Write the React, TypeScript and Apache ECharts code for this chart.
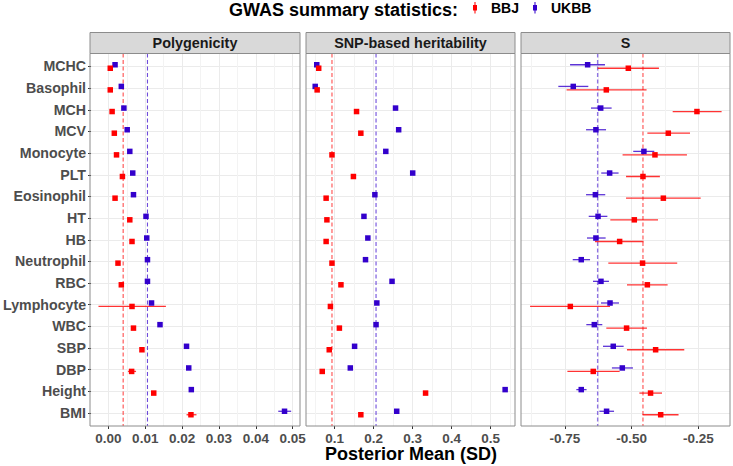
import { useEffect, useRef } from "react";
import * as echarts from "echarts";

// traits, top to bottom
const traits = [
  "MCHC", "Basophil", "MCH", "MCV", "Monocyte", "PLT", "Eosinophil", "HT", "HB",
  "Neutrophil", "RBC", "Lymphocyte", "WBC", "SBP", "DBP", "Height", "BMI",
];

// Polygenicity
const polyBBJ = [0.0005, 0.0005, 0.001, 0.0016, 0.0022, 0.0038, 0.0018, 0.0058, 0.0064, 0.0026, 0.0035, 0.0064, 0.0068, 0.0091, 0.0063, 0.0123, 0.0224];
const polyBBJLo = [0.0003, 0.0003, 0.0008, 0.0014, 0.002, 0.0036, 0.0016, 0.0056, 0.0062, 0.0024, 0.0033, -0.0027, 0.0066, 0.0086, 0.0053, 0.012, 0.0212];
const polyBBJHi = [0.0007, 0.0007, 0.0012, 0.0018, 0.0024, 0.004, 0.002, 0.006, 0.0066, 0.0028, 0.0037, 0.0156, 0.007, 0.0096, 0.0075, 0.0126, 0.0239];
const polyUKBB = [0.0018, 0.0035, 0.0042, 0.0051, 0.0058, 0.0066, 0.0068, 0.0102, 0.0104, 0.0106, 0.0106, 0.0117, 0.014, 0.0212, 0.0218, 0.0225, 0.0478];
const polyUKBBLo = [0.0016, 0.0033, 0.004, 0.0049, 0.0056, 0.0064, 0.0066, 0.01, 0.0102, 0.0104, 0.0104, 0.0115, 0.0138, 0.0208, 0.0214, 0.0222, 0.0461];
const polyUKBBHi = [0.002, 0.0037, 0.0044, 0.0053, 0.006, 0.0068, 0.007, 0.0104, 0.0106, 0.0108, 0.0108, 0.0119, 0.0142, 0.0216, 0.0222, 0.0228, 0.0496];
const polyMeanBBJ = 0.004;
const polyMeanUKBB = 0.0106;

// SNP-based heritability
const snpBBJ = [0.059, 0.055, 0.156, 0.167, 0.093, 0.148, 0.078, 0.08, 0.078, 0.093, 0.116, 0.089, 0.112, 0.086, 0.068, 0.333, 0.167];
const snpBBJLo = [0.057, 0.053, 0.153, 0.164, 0.09, 0.145, 0.075, 0.077, 0.075, 0.09, 0.113, 0.086, 0.109, 0.083, 0.065, 0.329, 0.164];
const snpBBJHi = [0.061, 0.057, 0.159, 0.17, 0.096, 0.151, 0.081, 0.083, 0.081, 0.096, 0.119, 0.092, 0.115, 0.089, 0.071, 0.337, 0.17];
const snpUKBB = [0.054, 0.05, 0.256, 0.264, 0.231, 0.3, 0.203, 0.175, 0.185, 0.179, 0.247, 0.208, 0.206, 0.151, 0.14, 0.537, 0.259];
const snpUKBBLo = [0.052, 0.048, 0.253, 0.261, 0.228, 0.297, 0.2, 0.172, 0.182, 0.176, 0.244, 0.205, 0.203, 0.148, 0.137, 0.532, 0.256];
const snpUKBBHi = [0.056, 0.052, 0.259, 0.267, 0.234, 0.303, 0.206, 0.178, 0.188, 0.182, 0.25, 0.211, 0.209, 0.154, 0.143, 0.542, 0.262];
const snpMeanBBJ = 0.093;
const snpMeanUKBB = 0.206;

// S
const sBBJ = [-0.5125, -0.595, -0.255, -0.3625, -0.4125, -0.4575, -0.381, -0.49, -0.545, -0.459, -0.441, -0.73, -0.519, -0.41, -0.644, -0.429, -0.391];
const sBBJLo = [-0.6275, -0.744, -0.346, -0.441, -0.534, -0.521, -0.521, -0.58, -0.6375, -0.5875, -0.5175, -0.881, -0.595, -0.5175, -0.741, -0.471, -0.459];
const sBBJHi = [-0.3975, -0.444, -0.1625, -0.281, -0.2925, -0.394, -0.241, -0.401, -0.455, -0.329, -0.365, -0.581, -0.4425, -0.3025, -0.545, -0.386, -0.324];
const sUKBB = [-0.665, -0.719, -0.616, -0.634, -0.454, -0.5825, -0.636, -0.626, -0.634, -0.689, -0.615, -0.581, -0.64, -0.569, -0.535, -0.689, -0.594];
const sUKBBLo = [-0.731, -0.775, -0.6525, -0.671, -0.494, -0.614, -0.671, -0.661, -0.6675, -0.721, -0.645, -0.615, -0.67, -0.6075, -0.574, -0.7075, -0.621];
const sUKBBHi = [-0.6, -0.6625, -0.575, -0.596, -0.415, -0.549, -0.599, -0.591, -0.5975, -0.656, -0.585, -0.5475, -0.61, -0.53, -0.495, -0.669, -0.566];
const sMeanBBJ = -0.4575;
const sMeanUKBB = -0.6275;

const FONT = "'Liberation Sans', Arial, Helvetica, sans-serif";
const RED = "#FF0000";
const BLUE = "#3300CC";
const W = 733;
const H = 466;
const FRAME_TOP = 53.5;
const FRAME_BOTTOM = 426;
const STRIP_TOP = 32.5;
const PAD = 0.6;
const DODGE = 0.08;

const panels = [
  {
    title: "Polygenicity", left: 90, right: 300, min: -0.005, max: 0.052,
    majorFrom: 0, majorTo: 0.05, minorFrom: 0.005, minorTo: 0.045, step: 0.01, digits: 2,
    bbj: polyBBJ, bbjLo: polyBBJLo, bbjHi: polyBBJHi,
    ukbb: polyUKBB, ukbbLo: polyUKBBLo, ukbbHi: polyUKBBHi,
    meanBBJ: polyMeanBBJ, meanUKBB: polyMeanUKBB, meanWidth: 1.1, meanOpacity: 0.7,
  },
  {
    title: "SNP-based heritability", left: 306, right: 515, min: 0.0264, max: 0.5623,
    majorFrom: 0.1, majorTo: 0.5, minorFrom: 0.05, minorTo: 0.55, step: 0.1, digits: 1,
    bbj: snpBBJ, bbjLo: snpBBJLo, bbjHi: snpBBJHi,
    ukbb: snpUKBB, ukbbLo: snpUKBBLo, ukbbHi: snpUKBBHi,
    meanBBJ: snpMeanBBJ, meanUKBB: snpMeanUKBB, meanWidth: 1.4, meanOpacity: 0.55,
  },
  {
    title: "S", left: 521, right: 730, min: -0.915, max: -0.131,
    majorFrom: -0.75, majorTo: -0.25, minorFrom: -0.875, minorTo: -0.375, step: 0.25, digits: 2,
    bbj: sBBJ, bbjLo: sBBJLo, bbjHi: sBBJHi,
    ukbb: sUKBB, ukbbLo: sUKBBLo, ukbbHi: sUKBBHi,
    meanBBJ: sMeanBBJ, meanUKBB: sMeanUKBB, meanWidth: 1.4, meanOpacity: 0.55,
  },
];

const App = () => {
  const chartRef = useRef<HTMLDivElement>(null);

  useEffect(() => {
    const chart = echarts.init(chartRef.current, null, { renderer: "svg" });
    const n = traits.length;
    const unit = (FRAME_BOTTOM - FRAME_TOP) / (n - 1 + 2 * PAD);

    const grid: any[] = [];
    const xAxis: any[] = [];
    const yAxis: any[] = [];
    const series: any[] = [];
    const graphic: any[] = [];

    const hiddenY = (gi: number) => ({ gridIndex: gi, type: "value", min: 0, max: 1, show: false });

    panels.forEach((p, i) => {
      const span = p.right - p.left;
      const px = (v: number) => p.left + ((v - p.min) / (p.max - p.min)) * span;
      const base = i * 4;

      // major vertical grid + tick labels
      grid.push({ left: px(p.majorFrom), right: W - px(p.majorTo), top: FRAME_TOP, bottom: H - FRAME_BOTTOM });
      xAxis.push({
        gridIndex: base, type: "value", min: p.majorFrom, max: p.majorTo, interval: p.step,
        axisLine: { show: false },
        axisTick: { show: true, length: 3, lineStyle: { color: "#333333", width: 1 } },
        axisLabel: {
          margin: 5, color: "#4D4D4D", fontFamily: FONT, fontWeight: "bold", fontSize: 13.5,
          formatter: (v: number) => v.toFixed(p.digits),
        },
        splitLine: { show: true, lineStyle: { color: "#EBEBEB", width: 1 } },
      });
      yAxis.push(hiddenY(base));

      // minor vertical grid
      grid.push({ left: px(p.minorFrom), right: W - px(p.minorTo), top: FRAME_TOP, bottom: H - FRAME_BOTTOM });
      xAxis.push({
        gridIndex: base + 1, type: "value", min: p.minorFrom, max: p.minorTo, interval: p.step,
        axisLine: { show: false }, axisTick: { show: false }, axisLabel: { show: false },
        splitLine: { show: true, lineStyle: { color: "#F3F3F3", width: 1 } },
      });
      yAxis.push(hiddenY(base + 1));

      // rows: horizontal grid + trait labels
      grid.push({
        left: p.left, right: W - p.right,
        top: FRAME_TOP + PAD * unit, bottom: H - (FRAME_BOTTOM - PAD * unit),
      });
      xAxis.push({ gridIndex: base + 2, type: "value", min: 0, max: 1, show: false });
      yAxis.push({
        gridIndex: base + 2, type: "value", min: 0, max: n - 1, interval: 1, inverse: true,
        axisLine: { show: false },
        axisTick: { show: i === 0, length: 3, lineStyle: { color: "#333333", width: 1 } },
        axisLabel: {
          show: i === 0, margin: 5, color: "#4D4D4D", fontFamily: FONT, fontWeight: "bold", fontSize: 14.2,
          formatter: (v: number) => traits[Math.round(v)] ?? "",
        },
        splitLine: { show: true, lineStyle: { color: "#EBEBEB", width: 1 } },
      });

      // data grid over the whole panel
      grid.push({ left: p.left, right: W - p.right, top: FRAME_TOP, bottom: H - FRAME_BOTTOM });
      xAxis.push({ gridIndex: base + 3, type: "value", min: p.min, max: p.max, show: false });
      yAxis.push({ gridIndex: base + 3, type: "value", min: -PAD, max: n - 1 + PAD, inverse: true, show: false });

      const groups = [
        { name: "UKBB", color: BLUE, v: p.ukbb, lo: p.ukbbLo, hi: p.ukbbHi, off: -DODGE, mean: p.meanUKBB },
        { name: "BBJ", color: RED, v: p.bbj, lo: p.bbjLo, hi: p.bbjHi, off: DODGE, mean: p.meanBBJ },
      ];

      // dashed mean lines across the full panel height
      groups.forEach((g) => {
        series.push({
          type: "custom",
          xAxisIndex: base + 3,
          yAxisIndex: base + 3,
          silent: true,
          z: 2,
          encode: { x: 0 },
          data: [[g.mean]],
          renderItem: (_params: any, api: any) => {
            const a = api.coord([api.value(0), -PAD]);
            const b = api.coord([api.value(0), n - 1 + PAD]);
            return {
              type: "line",
              shape: { x1: a[0], y1: a[1], x2: b[0], y2: b[1] },
              style: {
                stroke: g.color, lineWidth: p.meanWidth, opacity: p.meanOpacity,
                lineDash: [4, 2.5],
              },
            };
          },
        });
      });

      // horizontal interval bars
      groups.forEach((g) => {
        series.push({
          type: "custom",
          xAxisIndex: base + 3,
          yAxisIndex: base + 3,
          silent: true,
          z: 3,
          encode: { x: [0, 1], y: 2 },
          data: traits.map((_, k) => [g.lo[k], g.hi[k], k + g.off]),
          renderItem: (_params: any, api: any) => {
            const a = api.coord([api.value(0), api.value(2)]);
            const b = api.coord([api.value(1), api.value(2)]);
            return {
              type: "line",
              shape: { x1: a[0], y1: a[1], x2: b[0], y2: b[1] },
              style: { stroke: g.color, lineWidth: 1.3, opacity: 0.8 },
            };
          },
        });
      });

      groups.forEach((g) => {
        series.push({
          type: "scatter",
          name: g.name,
          xAxisIndex: base + 3,
          yAxisIndex: base + 3,
          silent: true,
          z: 4,
          symbol: "rect",
          symbolSize: 5.5,
          itemStyle: { color: g.color, opacity: 1 },
          data: traits.map((_, k) => [g.v[k], k + g.off]),
        });
      });

      // strip + frame
      graphic.push({
        type: "rect", z: 50,
        shape: { x: p.left, y: STRIP_TOP, width: span, height: FRAME_TOP - STRIP_TOP },
        style: { fill: "#D9D9D9", stroke: "#8C8C8C", lineWidth: 1 },
      });
      graphic.push({
        type: "text", z: 51, x: p.left + span / 2, y: 43,
        style: {
          text: p.title, fill: "#1A1A1A", font: `bold 14.4px ${FONT}`,
          align: "center", verticalAlign: "middle",
        },
      });
      graphic.push({
        type: "rect", z: 50,
        shape: { x: p.left, y: FRAME_TOP, width: span, height: FRAME_BOTTOM - FRAME_TOP },
        style: { fill: "none", stroke: "#8C8C8C", lineWidth: 1 },
      });
    });

    // legend
    graphic.push({
      type: "text", x: 229, y: 10,
      style: { text: "GWAS summary statistics:", fill: "#000000", font: `bold 18px ${FONT}`, verticalAlign: "middle" },
    });
    const legendItems = [
      { name: "BBJ", color: RED, iconX: 475, textX: 491 },
      { name: "UKBB", color: BLUE, iconX: 535, textX: 551 },
    ];
    legendItems.forEach((it) => {
      graphic.push({
        type: "line",
        shape: { x1: it.iconX, y1: 2, x2: it.iconX, y2: 13.5 },
        style: { stroke: it.color, lineWidth: 1.3, opacity: 0.8 },
      });
      graphic.push({
        type: "rect",
        shape: { x: it.iconX - 2, y: 5, width: 4, height: 5.5 },
        style: { fill: it.color },
      });
      graphic.push({
        type: "text", x: it.textX, y: 8,
        style: { text: it.name, fill: "#000000", font: `bold 14px ${FONT}`, verticalAlign: "middle" },
      });
    });

    // x axis title
    graphic.push({
      type: "text", x: 411, y: 454,
      style: {
        text: "Posterior Mean (SD)", fill: "#000000", font: `bold 18px ${FONT}`,
        align: "center", verticalAlign: "middle",
      },
    });

    chart.setOption({
      animation: false,
      backgroundColor: "#FFFFFF",
      textStyle: { fontFamily: FONT },
      grid,
      xAxis,
      yAxis,
      series,
      graphic,
    });

    return () => {
      chart.dispose();
    };
  }, []);

  return (
    <div
      ref={chartRef}
      style={{ position: "absolute", left: 0, top: 0, width: W, height: H }}
    />
  );
};

export default App;
